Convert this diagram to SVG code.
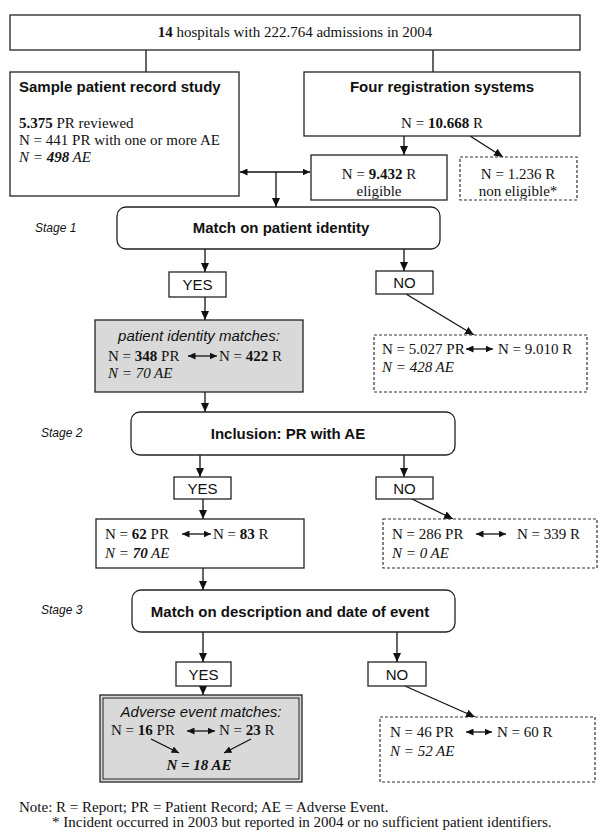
<svg xmlns="http://www.w3.org/2000/svg" width="600" height="840" viewBox="0 0 600 840">
<defs>
<marker id="ah" markerUnits="userSpaceOnUse" markerWidth="10" markerHeight="8" refX="9" refY="4" orient="auto-start-reverse">
<path d="M0,0 L9,4 L0,8 Z" fill="#111"/>
</marker>
<marker id="sh" markerUnits="userSpaceOnUse" markerWidth="8" markerHeight="7" refX="7.5" refY="3.5" orient="auto-start-reverse">
<path d="M0,0 L7.5,3.5 L0,7 Z" fill="#111"/>
</marker>
</defs>
<style>
.bx{fill:#fff;stroke:#222;stroke-width:1.3}
.gy{fill:#d9d9d9;stroke:#222;stroke-width:1.3}
.ds{fill:#fff;stroke:#333;stroke-width:1.2;stroke-dasharray:3,2}
.ln{fill:none;stroke:#111;stroke-width:1.3}
.ar{fill:none;stroke:#111;stroke-width:1.3;marker-end:url(#ah)}
.da{fill:none;stroke:#111;stroke-width:1.3;marker-start:url(#sh);marker-end:url(#sh)}
.tm{font-family:"Liberation Serif","Times New Roman",serif;font-size:15px;fill:#111}
.hd{font-family:"Liberation Sans",Arial,sans-serif;font-size:15px;font-weight:bold;fill:#111}
.ss{font-family:"Liberation Sans",Arial,sans-serif;font-size:15px;fill:#111}
.si{font-family:"Liberation Sans",Arial,sans-serif;font-size:15px;font-style:italic;fill:#111}
.st{font-family:"Liberation Sans",Arial,sans-serif;font-size:12px;font-style:italic;fill:#111}
.it{font-style:italic}
.b{font-weight:bold}
.nt{font-family:"Liberation Serif","Times New Roman",serif;font-size:15px;fill:#111}
</style>

<g id="connectors">
<line class="ln" x1="146" y1="50" x2="146" y2="72"/>
<line class="ln" x1="433" y1="50" x2="433" y2="72"/>
<line class="ar" x1="404" y1="136" x2="404" y2="155"/>
<line class="ar" x1="470" y1="136" x2="503" y2="157"/>
<line class="da" x1="240" y1="172" x2="310" y2="172"/>
<line class="ar" x1="276" y1="172" x2="276" y2="207"/>
<line class="ar" x1="205" y1="249" x2="205" y2="272"/>
<line class="ar" x1="404" y1="249" x2="404" y2="271"/>
<line class="ar" x1="205" y1="297" x2="205" y2="320"/>
<line class="ar" x1="406" y1="294" x2="474" y2="335"/>
<line class="ar" x1="205" y1="392" x2="205" y2="412"/>
<line class="ar" x1="200" y1="455" x2="200" y2="477"/>
<line class="ar" x1="404" y1="455" x2="404" y2="477"/>
<line class="ar" x1="203" y1="499" x2="203" y2="519"/>
<line class="ar" x1="412" y1="499" x2="453" y2="519"/>
<line class="ar" x1="203" y1="568" x2="203" y2="590"/>
<line class="ar" x1="203" y1="632" x2="203" y2="662"/>
<line class="ar" x1="397" y1="632" x2="397" y2="662"/>
<line class="ar" x1="203" y1="686" x2="203" y2="695"/>
<line class="ar" x1="405" y1="686" x2="475" y2="717"/>
</g>

<g id="hospitals">
<rect class="bx" x="10" y="15" width="570" height="35"/>
<text class="tm" x="295" y="37" text-anchor="middle"><tspan class="b">14</tspan> hospitals with 222.764 admissions in 2004</text>
</g>

<g id="sample">
<rect class="bx" x="10" y="72" width="229" height="124"/>
<text class="hd" x="19" y="92">Sample patient record study</text>
<text class="tm" x="19" y="128"><tspan class="b">5.375</tspan> PR reviewed</text>
<text class="tm" x="19" y="145">N = 441 PR with one or more AE</text>
<text class="tm it" x="19" y="162">N = <tspan class="b">498</tspan> AE</text>
</g>

<g id="registration">
<rect class="bx" x="304" y="72" width="276" height="64"/>
<text class="hd" x="442" y="92" text-anchor="middle">Four registration systems</text>
<text class="tm" x="442" y="128" text-anchor="middle">N = <tspan class="b">10.668</tspan> R</text>
</g>

<g id="eligible">
<rect class="bx" x="311" y="155" width="136" height="45"/>
<text class="tm" x="379" y="179" text-anchor="middle">N = <tspan class="b">9.432</tspan> R</text>
<text class="tm" x="379" y="196" text-anchor="middle">eligible</text>
</g>

<g id="noneligible">
<rect class="ds" x="460" y="157" width="117" height="43"/>
<text class="tm" x="518" y="179" text-anchor="middle">N = 1.236 R</text>
<text class="tm" x="518" y="196" text-anchor="middle">non eligible*</text>
</g>

<g id="stage1">
<text class="st" x="35" y="232">Stage 1</text>
<rect class="bx" x="117" y="207" width="323" height="42" rx="9"/>
<text class="hd" x="281" y="233" text-anchor="middle">Match on patient identity</text>
</g>

<g id="yes1">
<rect class="bx" x="169" y="272" width="57" height="25"/>
<text class="ss" x="197.5" y="290" text-anchor="middle">YES</text>
</g>

<g id="no1">
<rect class="bx" x="376" y="271" width="57" height="23"/>
<text class="ss" x="404.5" y="288" text-anchor="middle">NO</text>
</g>

<g id="match1">
<rect class="gy" x="95" y="320" width="208" height="72"/>
<text class="si" x="199" y="341" text-anchor="middle">patient identity matches:</text>
<text class="tm" x="108" y="361">N = <tspan class="b">348</tspan> PR</text>
<line class="da" x1="188" y1="356" x2="217" y2="356"/>
<text class="tm" x="219" y="361">N = <tspan class="b">422</tspan> R</text>
<text class="tm it" x="108" y="378" fill="#333">N = 70 AE</text>
</g>

<g id="nomatch1">
<rect class="ds" x="374" y="335" width="213" height="57"/>
<text class="tm" x="382" y="354">N = 5.027 PR</text>
<line class="da" x1="466" y1="349" x2="493" y2="349"/>
<text class="tm" x="498" y="354">N = 9.010 R</text>
<text class="tm it" x="382" y="372">N = 428 AE</text>
</g>

<g id="stage2">
<text class="st" x="41" y="437">Stage 2</text>
<rect class="bx" x="131" y="412" width="324" height="43" rx="9"/>
<text class="hd" x="288" y="439" text-anchor="middle">Inclusion: PR with AE</text>
</g>

<g id="yes2">
<rect class="bx" x="174" y="477" width="57" height="22"/>
<text class="ss" x="202.5" y="494" text-anchor="middle">YES</text>
</g>

<g id="no2">
<rect class="bx" x="376" y="477" width="57" height="22"/>
<text class="ss" x="404.5" y="494" text-anchor="middle">NO</text>
</g>

<g id="incl">
<rect class="bx" x="96" y="519" width="208" height="49"/>
<text class="tm" x="105" y="539">N = <tspan class="b">62</tspan> PR</text>
<line class="da" x1="182" y1="534" x2="211" y2="534"/>
<text class="tm" x="213" y="539">N = <tspan class="b">83</tspan> R</text>
<text class="tm it" x="105" y="558">N = <tspan class="b">70</tspan> AE</text>
</g>

<g id="excl">
<rect class="ds" x="383" y="519" width="214" height="49"/>
<text class="tm" x="392" y="539">N = 286 PR</text>
<line class="da" x1="476" y1="534" x2="506" y2="534"/>
<text class="tm" x="517" y="539">N = 339 R</text>
<text class="tm it" x="392" y="558">N = 0 AE</text>
</g>

<g id="stage3">
<text class="st" x="41" y="614">Stage 3</text>
<rect class="bx" x="132" y="590" width="323" height="42" rx="9"/>
<text class="hd" x="290" y="617" text-anchor="middle">Match on description and date of event</text>
</g>

<g id="yes3">
<rect class="bx" x="176" y="662" width="55" height="24"/>
<text class="ss" x="203.5" y="680" text-anchor="middle">YES</text>
</g>

<g id="no3">
<rect class="bx" x="368" y="662" width="58" height="24"/>
<text class="ss" x="397" y="680" text-anchor="middle">NO</text>
</g>

<g id="match3">
<rect class="gy" x="100" y="695" width="202" height="87"/>
<rect x="103" y="698" width="196" height="81" fill="none" stroke="#222" stroke-width="1"/>
<text class="si" x="201" y="717" text-anchor="middle">Adverse event matches:</text>
<text class="tm" x="111" y="735">N = <tspan class="b">16</tspan> PR</text>
<line class="da" x1="187" y1="731" x2="215" y2="731"/>
<text class="tm" x="219" y="735">N = <tspan class="b">23</tspan> R</text>
<line class="ln" x1="151" y1="739" x2="179" y2="753" marker-end="url(#sh)"/>
<line class="ln" x1="251" y1="739" x2="224" y2="753" marker-end="url(#sh)"/>
<text class="tm it b" x="199" y="770" text-anchor="middle">N = 18 AE</text>
</g>

<g id="nomatch3">
<rect class="ds" x="380" y="717" width="215" height="65"/>
<text class="tm" x="390" y="737">N = 46 PR</text>
<line class="da" x1="466" y1="732" x2="492" y2="732"/>
<text class="tm" x="497" y="737">N = 60 R</text>
<text class="tm it" x="390" y="756">N = 52 AE</text>
</g>

<g id="note">
<text class="nt" x="19" y="812">Note: R = Report; PR = Patient Record; AE = Adverse Event.</text>
<text class="nt" x="52" y="827">* Incident occurred in 2003 but reported in 2004 or no sufficient patient identifiers.</text>
</g>
</svg>
